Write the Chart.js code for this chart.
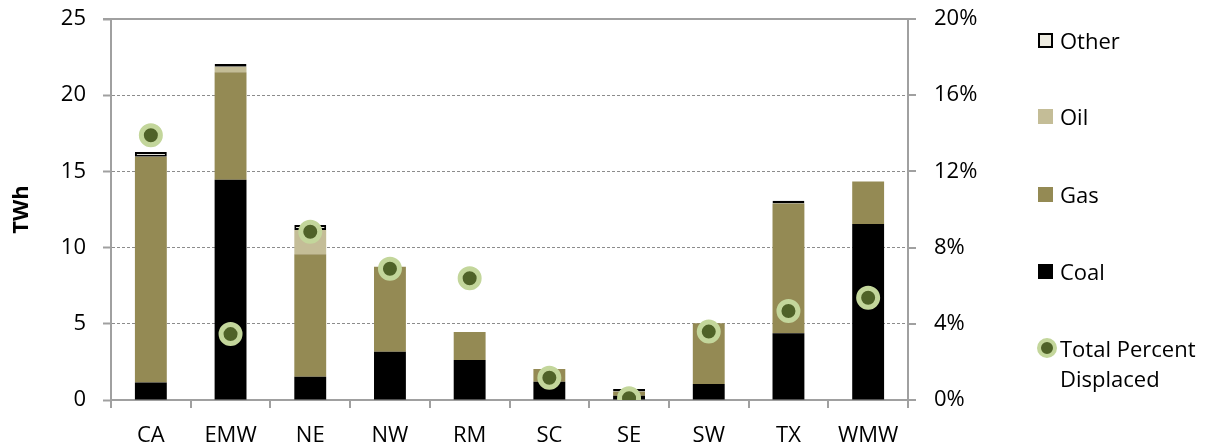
<!DOCTYPE html>
<html>
<head>
<meta charset="utf-8">
<script src="https://cdn.jsdelivr.net/npm/chart.js@4"></script>
<style>
body { margin: 0; background: #fff; }
#wrap { position: relative; width: 1211px; height: 446px; }
#legend { position: absolute; left: 1037px; top: 0; font-family: "Open Sans", sans-serif; font-size: 22px; color: #000; }
.item { position: absolute; left: 0; white-space: nowrap; line-height: 30px; }
.box { position: absolute; left: 1px; width: 15px; height: 15px; box-sizing: border-box; }
.txt { position: absolute; left: 23px; }
.dot { position: absolute; left: 0; width: 20px; height: 20px; border-radius: 50%; box-sizing: border-box; background: #4F6228; border: 4px solid #C3D69B; }
</style>
</head>
<body>
<div id="wrap">
<canvas id="myChart" width="1211" height="446"></canvas>
<div id="legend">
  <div class="item" style="top:25px"><div class="box" style="top:8px;background:#EEECE1;border:2px solid #000"></div><div class="txt">Other</div></div>
  <div class="item" style="top:101px"><div class="box" style="top:8px;background:#C4BD97"></div><div class="txt">Oil</div></div>
  <div class="item" style="top:179px"><div class="box" style="top:8px;background:#948A54"></div><div class="txt">Gas</div></div>
  <div class="item" style="top:256px"><div class="box" style="top:8px;background:#000"></div><div class="txt">Coal</div></div>
  <div class="item" style="top:333px"><div class="dot" style="top:5px"></div><div class="txt">Total Percent<br>Displaced</div></div>
</div>
</div>
<script>
// regions
const regions = ["CA", "EMW", "NE", "NW", "RM", "SC", "SE", "SW", "TX", "WMW"];

// TWh displaced by fuel (stacked)
const coal = [1.15, 14.45, 1.53, 3.17, 2.62, 1.2, 0.28, 1.05, 4.38, 11.55];
const gas = [14.81, 7.05, 8.03, 5.58, 1.84, 0.83, 0.27, 3.98, 8.52, 2.78];
const oil = [null, 0.37, 1.6, null, null, null, null, null, null, null];
const other = [0.32, 0.18, 0.32, null, null, null, 0.17, null, 0.18, null];

// total percent displaced (right axis)
const percentDisplaced = [13.9, 3.46, 8.83, 6.89, 6.39, 1.17, 0.09, 3.59, 4.67, 5.37];

const leftTicks = [0, 5, 10, 15, 20, 25];
const rightTicks = [0, 4, 8, 12, 16, 20];

const axisGrey = "#A0A0A0";
const font = { family: "'Open Sans', sans-serif", size: 22 };

// solid line along the top of the plot
const topFrame = {
  id: "topFrame",
  beforeDatasetsDraw(chart) {
    const a = chart.chartArea;
    const c = chart.ctx;
    c.save();
    c.strokeStyle = axisGrey;
    c.lineWidth = 2;
    c.beginPath();
    c.moveTo(a.left - 8, a.top);
    c.lineTo(a.right + 8, a.top);
    c.stroke();
    c.restore();
  }
};

const ctx = document.getElementById("myChart").getContext("2d");
const myChart = new Chart(ctx, {
  type: "bar",
  data: {
    labels: regions,
    datasets: [
      {
        type: "line",
        label: "Total Percent Displaced",
        data: percentDisplaced,
        yAxisID: "y2",
        showLine: false,
        pointRadius: 9.5,
        pointHoverRadius: 9.5,
        pointBackgroundColor: "#4F6228",
        pointBorderColor: "#C3D69B",
        pointBorderWidth: 5,
        order: 0,
      },
      { label: "Coal", data: coal, backgroundColor: "#000000", order: 1, yAxisID: "y" },
      { label: "Gas", data: gas, backgroundColor: "#948A54", order: 1, yAxisID: "y" },
      { label: "Oil", data: oil, backgroundColor: "#C4BD97", order: 1, yAxisID: "y" },
      {
        label: "Other",
        data: other,
        backgroundColor: "#EEECE1",
        borderColor: "#000000",
        borderWidth: 2,
        borderSkipped: false,
        order: 1,
        yAxisID: "y",
      },
    ],
  },
  options: {
    responsive: false,
    animation: false,
    events: [],
    barPercentage: 0.8,
    categoryPercentage: 0.5,
    layout: { padding: { top: 19, right: 223, left: 0, bottom: 0 } },
    plugins: {
      legend: { display: false },
      tooltip: { enabled: false },
    },
    scales: {
      x: {
        stacked: true,
        offset: true,
        grid: { display: true, drawOnChartArea: false, offset: true, tickLength: 8, color: axisGrey, lineWidth: 2 },
        border: { color: axisGrey, width: 2 },
        ticks: { color: "#000", font: font, padding: 15, maxRotation: 0 },
        afterFit(scale) { scale.height = 46; scale.paddingLeft = 0; scale.paddingRight = 0; },
      },
      y: {
        stacked: true,
        position: "left",
        min: 0,
        max: 25,
        afterBuildTicks(scale) { scale.ticks = leftTicks.map(v => ({ value: v })); },
        grid: {
          tickLength: 8,
          lineWidth: 1,
          color: c => (c.tick && (c.tick.value === 0 || c.tick.value === 25)) ? "rgba(0,0,0,0)" : "#8C8C8C",
          tickColor: axisGrey,
          tickWidth: 2,
        },
        border: { color: axisGrey, width: 2, dash: [3, 2] },
        ticks: { color: "#000", font: font, padding: 17 },
        title: { display: true, text: "TWh", color: "#000", font: { family: font.family, size: 22, weight: "bold" }, padding: { top: 9, bottom: 0 } },
        afterFit(scale) { scale.width = 111; scale.paddingTop = 0; scale.paddingBottom = 0; },
      },
      y2: {
        position: "right",
        min: 0,
        max: 20,
        afterBuildTicks(scale) { scale.ticks = rightTicks.map(v => ({ value: v })); },
        grid: { drawOnChartArea: false, tickLength: 8, color: axisGrey, lineWidth: 2 },
        border: { color: axisGrey, width: 2 },
        ticks: { color: "#000", font: font, padding: 18, callback: v => v + "%" },
        afterFit(scale) { scale.width = 80; scale.paddingTop = 0; scale.paddingBottom = 0; },
      },
    },
  },
  plugins: [topFrame],
});
</script>
</body>
</html>
